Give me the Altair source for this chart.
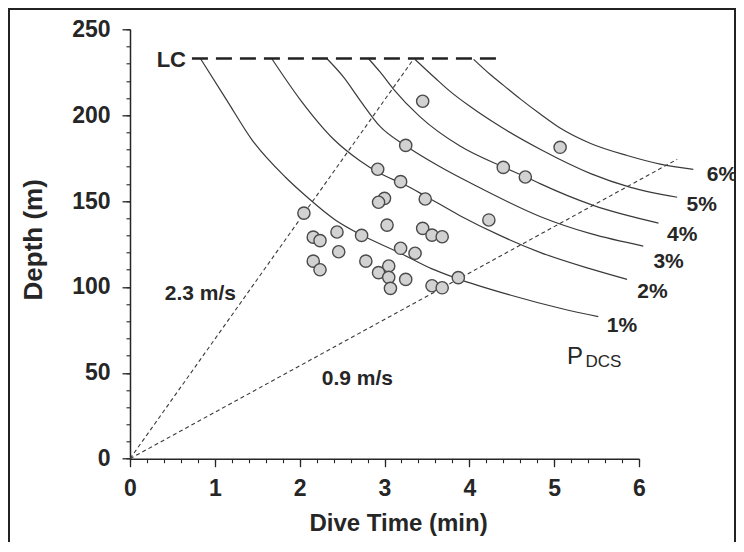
import altair as alt
import pandas as pd

FONT = "Liberation Sans"

# ---- observed dives (time in min, depth in m) ----
dive_time = [2.05, 2.16, 2.24, 2.44, 2.73, 2.46, 2.16, 2.24, 2.78, 2.92,
             3.19, 3.00, 2.93, 3.48, 3.03, 3.45, 3.56, 3.68, 3.19, 3.36,
             3.05, 2.93, 3.05, 3.25, 3.07, 3.56, 3.68, 3.87, 3.25, 3.45,
             4.40, 4.66, 4.23, 5.07]
dive_depth = [143, 129, 127, 132, 130, 120.5, 115, 110, 115, 168.5,
              161.3, 151.6, 149.3, 151.2, 136, 134.1, 130.2, 129.2, 122.5, 119.6,
              112.2, 108.3, 105.6, 104.4, 99.2, 100.7, 99.5, 105.4, 182.4, 208.1,
              169.6, 164, 139, 181.3]

# ---- iso-risk curves (P_DCS) ----
c1_t = [0.83, 1.14, 1.44, 1.83, 2.06, 2.42, 2.73, 3.18, 3.56, 3.85, 4.48, 5.07, 5.52]
c1_d = [233, 208.8, 185.5, 164.0, 153.5, 139.0, 130.2, 119.8, 110.5, 105.0, 95.3, 87.6, 82.7]
c2_t = [1.67, 2.01, 2.40, 2.71, 2.95, 3.24, 3.48, 3.89, 4.36, 4.84, 5.43, 5.86]
c2_d = [233, 208.8, 186, 173.5, 166, 159.5, 153, 141.5, 130, 120, 110.5, 104.4]
c3_t = [2.32, 2.52, 2.71, 2.95, 3.25, 3.66, 4.13, 4.84, 5.43, 6.05]
c3_d = [233, 222, 208.8, 193.3, 182.2, 169.8, 157.6, 140.9, 131, 123.8]
c4_t = [2.81, 2.95, 3.10, 3.42, 3.89, 4.40, 4.67, 4.84, 5.46, 6.23]
c4_d = [233, 225, 215.5, 199, 182, 169.8, 164, 160, 147.5, 137.2]
c5_t = [3.36, 3.60, 3.77, 4.01, 4.36, 4.84, 5.43, 5.90, 6.45]
c5_d = [232.5, 221.5, 214, 205, 193.5, 180, 166, 158, 152.2]
c6_t = [4.05, 4.25, 4.40, 4.60, 4.84, 5.07, 5.43, 5.86, 6.25, 6.64]
c6_d = [232.5, 223.5, 217.5, 209.5, 200.5, 192.5, 183.5, 176.5, 171.5, 168.4]

curve_names = ["1%", "2%", "3%", "4%", "5%", "6%"]
curve_t = [c1_t, c2_t, c3_t, c4_t, c5_t, c6_t]
curve_d = [c1_d, c2_d, c3_d, c4_d, c5_d, c6_d]

# curve end labels
label_t = [5.62, 5.98, 6.17, 6.33, 6.56, 6.80]
label_d = [77.3, 97.0, 114.5, 130.1, 147.6, 165.2]

# LC limit line
lc_t = [0.73, 4.32]
lc_d = [233, 233]

# rate lines
fast_t = [0, 3.34]
fast_d = [0, 232.5]
slow_t = [0, 6.45]
slow_d = [0, 174.3]

# annotation texts
rate_text = ["2.3 m/s", "0.9 m/s"]
rate_t = [0.83, 2.68]
rate_d = [95.9, 46.2]

x_major = [0, 1, 2, 3, 4, 5, 6]
x_minor = [round(0.2 * i, 1) for i in range(31)]
y_major = [0, 50, 100, 150, 200, 250]
y_minor = list(range(0, 251, 10))

# ---- tables ----
pts = pd.DataFrame({"time": dive_time, "depth": dive_depth})
rows = []
for name, ts, ds in zip(curve_names, curve_t, curve_d):
    for t, d in zip(ts, ds):
        rows.append({"curve": name, "time": t, "depth": d})
curves = pd.DataFrame(rows)
labels = pd.DataFrame({"time": label_t, "depth": label_d, "txt": curve_names})
lc = pd.DataFrame({"time": lc_t, "depth": lc_d})
rates = pd.DataFrame({"line": ["fast"] * 2 + ["slow"] * 2,
                      "time": fast_t + slow_t, "depth": fast_d + slow_d})
rate_lab = pd.DataFrame({"time": rate_t, "depth": rate_d, "txt": rate_text})
minor_df = pd.DataFrame({"time": [0], "depth": [0]})

xs = alt.Scale(domain=[0, 6], nice=False, zero=False)
ys = alt.Scale(domain=[0, 250], nice=False, zero=False)

AX = "#262626"
major_x = alt.Axis(values=x_major, orient="bottom", format="d", grid=False,
                   title="Dive Time (min)", titleFont=FONT, titleFontSize=24,
                   titleFontWeight="bold", titleColor=AX, titleX=268, titleY=72,
                   titleBaseline="alphabetic", labelFlush=False,
                   labelFont=FONT, labelFontSize=23, labelFontWeight="bold",
                   labelColor=AX, labelPadding=11, tickSize=8, tickWidth=1.3,
                   tickColor=AX, domainColor=AX, domainWidth=1.5)
minor_x = alt.Axis(values=x_minor, orient="bottom", labels=False, title="",
                   grid=False, tickSize=4, tickWidth=1.1, tickColor=AX,
                   domain=False)
major_y = alt.Axis(values=y_major, orient="left", format="d", grid=False,
                   title="Depth (m)", titleFont=FONT, titleFontSize=26,
                   titleFontWeight="bold", titleColor=AX, titleX=-89, titleY=210,
                   titleBaseline="alphabetic", titleAngle=270, labelFlush=False,
                   labelFont=FONT, labelFontSize=23, labelFontWeight="bold",
                   labelColor=AX, labelPadding=12, tickSize=8, tickWidth=1.3,
                   tickColor=AX, domainColor=AX, domainWidth=1.5)
minor_y = alt.Axis(values=y_minor, orient="left", labels=False, title="",
                   grid=False, tickSize=4, tickWidth=1.1, tickColor=AX,
                   domain=False)

minor = alt.Chart(minor_df).mark_point(opacity=0).encode(
    x=alt.X("time:Q", scale=xs, axis=minor_x),
    y=alt.Y("depth:Q", scale=ys, axis=minor_y),
)

curve_layer = alt.Chart(curves).mark_line(
    color="#3a3a3a", strokeWidth=1.2, interpolate="monotone"
).encode(
    x=alt.X("time:Q", scale=xs, axis=major_x),
    y=alt.Y("depth:Q", scale=ys, axis=major_y),
    detail="curve:N",
)

rate_layer = alt.Chart(rates).mark_line(
    color="#3a3a3a", strokeWidth=1.1, strokeDash=[4, 3]
).encode(
    x=alt.X("time:Q", scale=xs, axis=None),
    y=alt.Y("depth:Q", scale=ys, axis=None),
    detail="line:N",
)

lc_layer = alt.Chart(lc).mark_line(
    color="#222222", strokeWidth=2.3, strokeDash=[16, 8]
).encode(
    x=alt.X("time:Q", scale=xs, axis=None),
    y=alt.Y("depth:Q", scale=ys, axis=None),
)

point_layer = alt.Chart(pts).mark_point(
    filled=True, fill="#d2d2d2", stroke="#4a4a4a", strokeWidth=1.4,
    size=150, opacity=1
).encode(
    x=alt.X("time:Q", scale=xs, axis=None),
    y=alt.Y("depth:Q", scale=ys, axis=None),
)

pct_layer = alt.Chart(labels).mark_text(
    font=FONT, fontSize=21, fontWeight="bold", color="#262626",
    align="left", baseline="middle"
).encode(
    x=alt.X("time:Q", scale=xs, axis=None),
    y=alt.Y("depth:Q", scale=ys, axis=None),
    text="txt:N",
)

rate_text_layer = alt.Chart(rate_lab).mark_text(
    font=FONT, fontSize=21, fontWeight="bold", color="#262626",
    align="center", baseline="middle"
).encode(
    x=alt.X("time:Q", scale=xs, axis=None),
    y=alt.Y("depth:Q", scale=ys, axis=None),
    text="txt:N",
)

lc_text = alt.Chart(pd.DataFrame({"time": [0.66], "depth": [232], "txt": ["LC"]})).mark_text(
    font=FONT, fontSize=22, fontWeight="bold", color="#262626",
    align="right", baseline="middle"
).encode(
    x=alt.X("time:Q", scale=xs, axis=None),
    y=alt.Y("depth:Q", scale=ys, axis=None),
    text="txt:N",
)

p_text = alt.Chart(pd.DataFrame({"time": [5.15], "depth": [55.0], "txt": ["P"]})).mark_text(
    font=FONT, fontSize=24, color="#262626", align="left", baseline="alphabetic"
).encode(
    x=alt.X("time:Q", scale=xs, axis=None),
    y=alt.Y("depth:Q", scale=ys, axis=None),
    text="txt:N",
)

dcs_text = alt.Chart(pd.DataFrame({"time": [5.37], "depth": [53.6], "txt": ["DCS"]})).mark_text(
    font=FONT, fontSize=17, color="#262626", align="left", baseline="alphabetic"
).encode(
    x=alt.X("time:Q", scale=xs, axis=None),
    y=alt.Y("depth:Q", scale=ys, axis=None),
    text="txt:N",
)

frame = alt.Chart(minor_df).mark_rect(
    fillOpacity=0, stroke="#222222", strokeWidth=2
).encode(
    x=alt.value(-121), x2=alt.value(605), y=alt.value(-20.3), y2=alt.value(540)
)

chart = alt.layer(
    frame, minor, curve_layer, rate_layer, lc_layer, point_layer,
    pct_layer, rate_text_layer, lc_text, p_text, dcs_text
).resolve_axis(
    x="independent", y="independent"
).properties(
    width=509, height=429.4, background="white",
    autosize=alt.AutoSizeParams(type="none"),
    padding={"left": 122, "top": 21.3, "right": 97, "bottom": 83.3},
).configure_view(stroke="transparent", strokeWidth=0)

chart.save("out.html", embed_options={"renderer": "svg", "actions": False})
